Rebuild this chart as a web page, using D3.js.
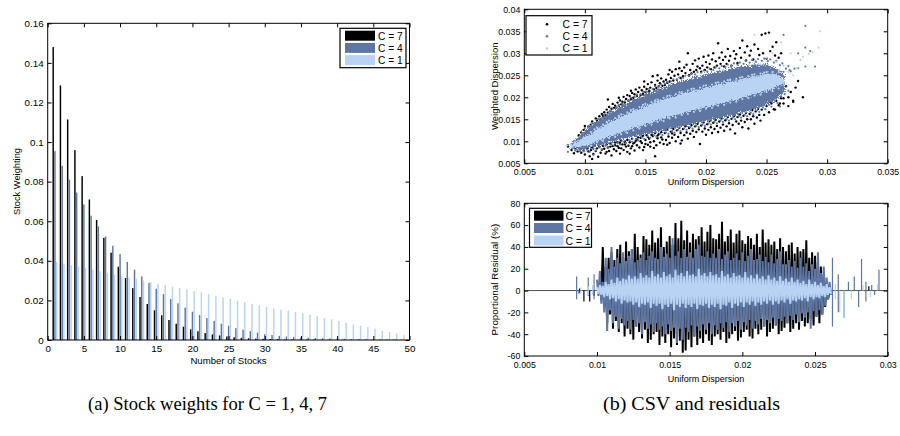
<!DOCTYPE html>
<html><head><meta charset="utf-8">
<script src="https://cdn.jsdelivr.net/npm/d3@7/dist/d3.min.js"></script>
<style>
body{margin:0;background:#fff}
svg{display:block}
text{font-family:"Liberation Sans",Arial,Helvetica,sans-serif;fill:#000}
text.cap{font-family:"Liberation Serif","Times New Roman",serif}
</style></head>
<body><svg id="c" width="900" height="436"></svg>
<script>
// ---------------- DATA ----------------
const seriesNames = ["C = 7","C = 4","C = 1"];
const seriesColors = ["#000000","#5e76a3","#b8d3f3"];

// (a) stock weights
const stockNumbers = [1,2,3,4,5,6,7,8,9,10,11,12,13,14,15,16,17,18,19,20,21,22,23,24,25,26,27,28,29,30,31,32,33,34,35,36,37,38,39,40,41,42,43,44,45,46,47,48,49,50];
const weightC7 = [0.148,0.1286,0.1114,0.0959,0.0828,0.071,0.0606,0.0516,0.0441,0.037,0.0313,0.0262,0.0217,0.0182,0.015,0.0125,0.0101,0.0082,0.0067,0.0054,0.0044,0.0035,0.0028,0.0023,0.0018,0.0014,0.0011,0.0009,0.0007,0.0006,0.0005,0.0004,0.0003,0.0003,0.0002,0.0002,0.0002,0.0001,0.0001,0.0001,0.0001,0.0001,0.0001,0.0001,0.0001,0.0001,0.0001,0.0001,0.0001,0.0001];
const weightC4 = [0.0954,0.088,0.081,0.0745,0.0685,0.0628,0.0574,0.0523,0.0476,0.0434,0.0394,0.0355,0.0321,0.0289,0.0259,0.0232,0.0207,0.0185,0.0163,0.0143,0.0126,0.0111,0.0097,0.0082,0.0072,0.006,0.0052,0.0045,0.0037,0.0029,0.0025,0.0021,0.0018,0.0016,0.0014,0.0012,0.001,0.0009,0.0008,0.0007,0.0006,0.0005,0.0005,0.0004,0.0004,0.0003,0.0003,0.0003,0.0002,0.0002];
const weightC1 = [0.0395,0.0385,0.0379,0.037,0.0363,0.0355,0.0347,0.0338,0.033,0.0321,0.0315,0.031,0.03,0.0293,0.0284,0.0278,0.0269,0.0262,0.0256,0.0247,0.0241,0.0232,0.0224,0.0215,0.0208,0.0198,0.019,0.0182,0.0175,0.0167,0.016,0.0153,0.0148,0.0141,0.0136,0.0128,0.012,0.0111,0.0104,0.0096,0.0087,0.0079,0.0072,0.0066,0.0057,0.0047,0.004,0.0032,0.0024,0.0019];
const weightTicksX = [0,5,10,15,20,25,30,35,40,45,50];
const weightTicksY = [0,0.02,0.04,0.06,0.08,0.1,0.12,0.14,0.16];

// (b, top) dispersion scatter — units of 1e-4
const bandX   = [88,92,96,100,105,110,115,120,125,130,135,140,145,150,155,160,165,170,175,180,185,190,195,200,205,210,215,220,225,230,235,240,245,250,255,260,265];
const lightLo = [86,87,87,90,93,101,104,111,114,120,123,130,133,139,142,148,150,156,158,164,166,171,173,178,180,185,187,192,194,200,202,208,210,216,218,225,232];
const lightHi = [90,98,103,112,118,128,134,144,149,158,162,170,174,182,185,192,195,201,203,209,211,217,218,224,225,231,232,237,238,243,244,249,250,254,254,251,240];
const darkLo  = [82,82,80,81,84,89,92,97,99,104,105,110,111,116,117,122,123,128,129,134,135,140,141,146,147,152,153,158,159,165,167,173,176,184,190,201,212];
const darkHi  = [94,104,114,126,135,147,155,165,171,181,187,196,200,208,212,219,222,229,232,238,240,246,248,253,255,260,261,266,267,271,271,275,274,275,269,263,248];
const blackPoints = [
[86,88],[89,80],[92,84],[94,77],[91,73],[96,82],[97,74],[99,79],[100,70],[102,84],[103,77],[104,66],[98,86],
[105,80],[106,86],[107,71],[108,90],[109,78],[110,84],[111,65],[112,88],[113,74],[114,81],[106,60],
[115,90],[116,83],[117,72],[118,93],[119,86],[120,78],[121,95],[122,68],[123,89],[124,82],[125,97],[118,76],[121,88],
[125,91],[126,78],[127,98],[128,85],[129,72],[130,101],[131,93],[132,80],[133,99],[134,88],[135,76],[127,89],[130,84],[133,93],[129,96],
[135,103],[136,90],[137,98],[138,84],[139,106],[140,95],[141,79],[142,101],[143,91],[144,109],[145,86],[137,72],[141,97],[139,89],[143,104],
[146,108],[147,96],[148,112],[149,87],[150,103],[151,114],[152,92],[153,106],[154,98],[155,115],[148,80],[150,94],[152,110],[146,100],[154,88],
[156,112],[157,100],[158,119],[159,91],[160,107],[161,116],[162,97],[163,121],[164,104],[165,94],[158,66],[160,113],[163,109],[157,85],
[166,119],[167,103],[168,126],[169,111],[170,96],[171,122],[172,108],[173,128],[174,115],[175,100],[168,92],[172,118],
[176,125],[177,110],[178,131],[179,119],[180,102],[181,128],[182,114],[183,134],[184,120],[185,106],[179,95],
[186,130],[187,117],[188,137],[189,124],[190,110],[191,134],[192,121],[193,140],[194,127],[195,94],
[196,136],[197,122],[198,143],[199,129],[200,115],[201,139],[202,126],[203,146],[204,132],[205,119],
[206,142],[207,128],[208,149],[209,135],[210,121],[211,145],[212,131],[213,152],[214,138],[215,124],
[216,148],[217,134],[218,155],[219,141],[220,127],[221,151],[222,137],[223,157],[224,118],[225,145],
[226,155],[227,140],[228,161],[229,147],[230,132],[231,158],[232,144],[233,165],[234,150],[235,129],
[236,162],[237,150],[238,171],[239,157],[240,140],[241,168],[242,154],[243,174],[244,160],[245,147],
[246,172],[248,160],[250,180],[252,166],[254,186],[256,173],[258,192],[260,182],[262,198],[264,186],[268,200],[272,190],
[95,114],[97,120],[99,126],[101,122],[103,134],[104,128],[100,135],
[105,138],[106,145],[108,140],[109,152],[110,147],[112,157],[113,150],[114,162],[107,133],
[115,158],[116,166],[117,160],[118,172],[119,165],[120,178],[121,168],[122,174],[123,185],[124,176],[125,181],[119,195],
[126,176],[127,188],[128,180],[129,193],[130,184],[131,190],[132,201],[133,188],[134,196],[135,205],[128,199],
[136,192],[137,203],[138,196],[139,210],[140,199],[141,207],[142,218],[143,203],[144,212],[145,222],[138,215],
[146,205],[147,216],[148,208],[149,224],[150,212],[151,219],[152,230],[153,214],[154,222],[155,234],[149,236],[156,248],
[157,218],[158,228],[159,221],[160,238],[161,225],[162,232],[163,243],[164,226],[165,236],[160,250],
[166,228],[167,240],[168,233],[169,252],[170,236],[171,244],[172,258],[173,238],[174,249],[175,264],[170,262],
[176,240],[177,252],[178,281],[179,244],[180,260],[181,248],[182,268],[183,255],[184,274],[185,300],[178,266],
[186,250],[187,262],[188,254],[189,276],[190,258],[191,284],[192,262],[193,270],[194,288],[195,266],
[196,258],[197,272],[198,292],[199,262],[200,280],[201,268],[202,295],[203,276],[204,264],[205,286],
[206,300],[207,268],[208,282],[209,272],[210,323],[211,290],[212,276],[213,302],[214,285],[215,270],
[216,292],[217,276],[218,310],[219,283],[220,294],[221,272],[223,305],[224,288],[225,298],
[226,278],[228,312],[229,290],[230,329],[232,302],[233,284],[234,316],[236,295],[237,306],[239,286],[240,320],
[243,310],[244,296],[246,342],[247,300],[249,345],[250,288],[252,347],[253,305],[255,315],[257,295],[258,325],[260,290],[262,300],
[236,188],[238,204],[240,230],[242,196],[244,212],[245,240],[247,186],[248,225],[250,203],[251,235],[253,190],[254,218],[256,245],[257,172],[258,206],[260,228],[261,186],[262,214],[264,198],[266,225],[268,180],[270,212],[272,192],[274,222],[276,237],[280,200],[246,190],[250,206],[255,195]];
const darkPoints = [
[100,130],[103,134],[106,142],[108,140],[111,151],[113,149],[116,160],[118,160],[121,169],[123,174],[126,177],[128,183],[131,185],[133,191],[136,193],[138,199],[141,201],[143,206],[146,207],[148,213],[151,213],[153,219],[156,219],[158,225],[161,225],[163,229],[166,231],[168,235],[171,236],[173,241],[176,240],[178,245],[181,244],[183,249],[186,248],[188,253],[191,252],[193,257],[196,256],[198,261],[201,259],[203,265],[206,262],[208,268],[211,266],[213,271],[216,269],[218,274],[221,271],[223,277],[226,274],[228,279],[231,276],[233,282],[236,279],[238,285],[241,281],[243,287],[246,283],[248,288],[251,282],[253,286],[256,279],[258,283],[261,273],[263,277],[266,265],[268,271],[270,259],[273,265],
[96,77],[99,77],[102,80],[104,76],[107,82],[109,79],[112,86],[114,82],[117,90],[119,87],[122,93],[124,90],[127,96],[129,93],[132,99],[134,96],[137,102],[139,99],[142,105],[144,102],[147,108],[149,105],[152,111],[154,108],[157,114],[159,111],[162,117],[164,114],[167,120],[169,117],[172,123],[174,120],[177,126],[179,123],[182,129],[184,126],[187,132],[189,129],[192,135],[194,132],[197,138],[199,135],[202,141],[204,138],[207,144],[209,141],[212,147],[214,144],[217,150],[219,147],[222,153],[224,150],[227,157],[229,154],[232,160],[234,157],[237,165],[239,162],[242,170],[244,167],[247,177],[249,173],[252,183],[254,179],[257,192],[259,187],[262,202],[265,207],[268,215],
[264,258],[269,262],[276,266],[282,270],[290,270],[276,300],[282,313],[282,362],[264,342],[286,305],[107,69],[86,76],[86,92],[90,90],[92,79],[256,217],[261,179]];
const lightPoints = [
[105,121],[110,131],[115,138],[120,147],[125,153],[130,161],[135,166],[140,173],[145,178],[150,185],[155,189],[160,195],[165,199],[170,204],[175,207],[180,212],[185,215],[190,220],[195,222],[200,227],[205,229],[210,234],[215,236],[220,240],[225,242],[230,246],[235,248],[240,252],[245,254],[250,257],[255,258],[260,257],[108,127],[118,144],[128,158],[138,171],[148,183],[158,193],[168,203],[178,211],[188,219],[198,226],[208,233],[218,239],[228,245],[238,251],[248,256],
[105,90],[110,98],[115,101],[120,107],[125,110],[130,116],[135,119],[140,125],[145,129],[150,135],[155,138],[160,144],[165,146],[170,152],[175,154],[180,160],[185,162],[190,167],[195,169],[200,174],[205,176],[210,181],[215,183],[220,188],[225,190],[230,196],[235,198],[240,204],[245,206],[250,212],[255,214],[260,220],
[85,90],[88,93],[90,87],[92,97],[96,100],[99,92],[240,342],[262,325],[264,272],[275,266],[285,299],[293,313],[294,350],[270,300],[250,290],[258,280],[278,285],[255,300],[245,275],[268,258],[272,250],[260,262],[280,292],[288,303]];
const scatterTicksX = [0.005,0.01,0.015,0.02,0.025,0.03,0.035];
const scatterTicksY = [0.005,0.01,0.015,0.02,0.025,0.03,0.035,0.04];

// (b, bottom) proportional residuals (%) — x in units of 1e-4
const resX = [100,102,104,106,108,110,112,114,116,118,120,122,124,126,128,130,132,134,136,138,140,142,144,146,148,150,152,154,156,158,160,162,164,166,168,170,172,174,176,178,180,182,184,186,188,190,192,194,196,198,200,202,204,206,208,210,212,214,216,218,220,222,224,226,228,230,232,234,236,238,240,242,244,246,248,250,252,254,256,258,260];
const resC7Hi = [0,5,40,22,30,35,28,38,42,30, 45,36,38,52,40,33,50,47,42,55, 44,48,58,40,45,50,42,62,48,64, 46,55,44,52,47,50,58,45,54,60, 48,47,52,63,45,50,56,44,52,55, 46,43,50,48,42,52,40,56,44,47, 42,45,38,48,40,36,42,44,34,40, 36,38,46,30,35,32,26,22,15,6, 0];
const resC7Lo = [0,-8,-15,-30,-22,-35,-28,-38,-30,-42, -35,-40,-45,-33,-38,-44,-36,-48,-45,-40, -38,-50,-42,-48,-40,-52,-44,-50,-46,-57, -55,-45,-52,-42,-50,-44,-48,-40,-46,-50, -42,-40,-45,-38,-48,-44,-40,-37,-46,-43, -38,-36,-42,-44,-35,-40,-36,-33,-42,-38, -35,-32,-40,-37,-34,-30,-38,-35,-30,-36, -28,-33,-30,-26,-32,-24,-30,-22,-15,-8, 0];
const resC4Hi = [10,18,8,30,20,40,22,30,25,35, 27,32,38,26,28,30,35,28,32,36, 30,29,40,31,34,30,48,32,36,30, 38,31,35,30,38,42,32,31,36,30, 34,30,38,29,33,36,28,30,34,28, 35,27,32,38,28,29,33,27,31,26, 33,25,29,36,24,24,28,22,27,21, 30,22,25,18,24,20,35,16,22,12, 8];
const resC4Lo = [-5,-12,-20,-37,-18,-30,-24,-35,-26,-32, -28,-36,-27,-33,-30,-40,-29,-35,-31,-38, -30,-36,-33,-40,-31,-37,-34,-48,-35,-45, -34,-38,-32,-42,-33,-37,-31,-36,-30,-40, -32,-36,-30,-34,-29,-38,-30,-33,-28,-36, -29,-32,-27,-35,-28,-31,-26,-33,-27,-30, -25,-32,-26,-28,-24,-30,-23,-27,-22,-29, -21,-25,-20,-35,-19,-24,-18,-22,-14,-8, -4];
const resC1Hi = [3,5,4,8,6,10,7,12,9,11, 10,14,11,13,11,16,12,14,12,18, 13,15,12,17,13,15,12,19,14,16, 13,18,14,15,13,20,14,16,13,17, 14,15,12,18,13,15,12,16,13,14, 12,17,12,14,11,15,11,13,10,14, 10,12,9,13,9,11,8,12,8,10, 7,9,6,10,6,8,5,7,4,6, 3];
const resC1Lo = [-3,-4,-6,-5,-8,-7,-10,-8,-12,-9, -11,-10,-13,-11,-15,-12,-13,-11,-16,-12, -14,-12,-17,-13,-15,-12,-18,-13,-15,-12, -16,-13,-15,-12,-17,-13,-14,-12,-16,-13, -15,-12,-17,-13,-14,-11,-16,-12,-14,-11, -15,-11,-13,-10,-14,-11,-13,-10,-12,-9, -13,-10,-12,-9,-11,-8,-12,-9,-10,-8, -9,-7,-10,-6,-8,-6,-7,-5,-6,-4, -3];
const spikesC7 = [[88,2],[88,-2],[91,-10],[95,-10],[98,-5],[103,-10],[287,4]];
const spikesC4 = [[86,13],[86,-8],[87.5,-3],[94,12],[94,-5],[98,15],[98,-8],[262,30],[262,-33],[266,15],[266,-20],[270,-25],[273,8],[277,13],[280,-15],[282,29],[285,8],[285,-10],[289,5],[291,-4],[294,19]];
const spikesC1 = [[89,3],[89,-3],[94,4],[94,-4],[97,5],[97,-4],[264,6],[264,-8],[267,-20],[270,-25],[275,-8],[283,5],[288,-6],[293,6]];
const resTicksX = [0.005,0.01,0.015,0.02,0.025,0.03];
const resTicksY = [-60,-40,-20,0,20,40,60,80];

// ---------------- DRAWING ----------------
const svg = d3.select("#c");
const defs = svg.append("defs");
// edge-roughening filters for the dense scatter bands
function roughFilter(id, freq, scale){
  const f = defs.append("filter").attr("id",id).attr("x","-5%").attr("y","-10%").attr("width","110%").attr("height","120%");
  f.append("feTurbulence").attr("type","fractalNoise").attr("baseFrequency",freq).attr("numOctaves",2).attr("seed",4).attr("result","n");
  f.append("feDisplacementMap").attr("in","SourceGraphic").attr("in2","n").attr("scale",scale).attr("xChannelSelector","R").attr("yChannelSelector","G");
}
roughFilter("roughDark", 0.8, 9);
roughFilter("roughLight", 0.8, 6);

function styleAxis(g, fs){
  g.select(".domain").remove();
  g.selectAll(".tick line").attr("stroke","#000").attr("stroke-width",1);
  g.selectAll(".tick text").style("font-size",fs+"px").attr("fill","#000");
  g.attr("font-family",null).attr("font-size",null);
}
function frame(xs, ys, xt, yt, fs, padB, padL){
  const [x0,x1]=xs.range(), [y0,y1]=ys.range();
  const fmt = d=>String(d);
  svg.append("g").attr("transform",`translate(0,${y0})`)
    .call(d3.axisBottom(xs).tickValues(xt).tickFormat(fmt).tickSizeInner(-4).tickSizeOuter(0).tickPadding(padB)).call(styleAxis,fs);
  svg.append("g").attr("transform",`translate(0,${y1})`)
    .call(d3.axisTop(xs).tickValues(xt).tickFormat("").tickSizeInner(-4).tickSizeOuter(0)).call(styleAxis,fs);
  svg.append("g").attr("transform",`translate(${x0},0)`)
    .call(d3.axisLeft(ys).tickValues(yt).tickFormat(fmt).tickSizeInner(-4).tickSizeOuter(0).tickPadding(padL)).call(styleAxis,fs);
  svg.append("g").attr("transform",`translate(${x1},0)`)
    .call(d3.axisRight(ys).tickValues(yt).tickFormat("").tickSizeInner(-4).tickSizeOuter(0)).call(styleAxis,fs);
  svg.append("rect").attr("x",x0).attr("y",y1).attr("width",x1-x0).attr("height",y0-y1)
    .attr("fill","none").attr("stroke","#000").attr("stroke-width",1);
}
function clip(id, xs, ys){
  const [x0,x1]=xs.range(), [y0,y1]=ys.range();
  defs.append("clipPath").attr("id",id).append("rect").attr("x",x0).attr("y",y1).attr("width",x1-x0).attr("height",y0-y1);
  return svg.append("g").attr("clip-path",`url(#${id})`);
}
function vlabel(x,y,txt,fs){
  svg.append("text").attr("transform",`translate(${x},${y}) rotate(-90)`).attr("text-anchor","middle").style("font-size",fs+"px").text(txt);
}
function hlabel(x,y,txt,fs){
  svg.append("text").attr("x",x).attr("y",y).attr("text-anchor","middle").style("font-size",fs+"px").text(txt);
}

// ===== (a) bar chart =====
const xA = d3.scaleLinear().domain([0,50]).range([47.7,409.5]);
const yA = d3.scaleLinear().domain([0,0.16]).range([340,23.3]);
const gA = clip("clipA", xA, yA);
const barSeries = [weightC7, weightC4, weightC1];
const barOffsets = [-0.24, 0, 0.24];
const barW = xA(0.2)-xA(0);
barSeries.forEach((vals,i)=>{
  gA.selectAll(null).data(stockNumbers).enter().append("rect")
    .attr("x",(d,j)=>xA(d+barOffsets[i])-barW/2)
    .attr("width",barW)
    .attr("y",(d,j)=>yA(vals[j]))
    .attr("height",(d,j)=>yA(0)-yA(vals[j]))
    .attr("fill",seriesColors[i]);
});
frame(xA, yA, weightTicksX, weightTicksY, 9.8, 5, 4);
vlabel(20, 181.5, "Stock Weighting", 9.3);
hlabel(228.5, 364, "Number of Stocks", 9.6);
svg.append("rect").attr("x",340).attr("y",28.3).attr("width",66).attr("height",39.4).attr("fill","#fff").attr("stroke","#000").attr("stroke-width",1.2);
seriesNames.forEach((n,i)=>{
  const yy = 30.7 + i*12.2;
  svg.append("rect").attr("x",345).attr("y",yy).attr("width",30).attr("height",10).attr("fill",seriesColors[i]);
  svg.append("text").attr("x",378).attr("y",yy+8.8).style("font-size","10.2px").text(n);
});

// ===== (b) top scatter =====
const xS = d3.scaleLinear().domain([0.005,0.035]).range([524.3,887.7]);
const yS = d3.scaleLinear().domain([0.005,0.04]).range([163.3,9.3]);
const gS = clip("clipS", xS, yS);
const u = v=>v*1e-4;
const bandRows = bandX.map((x,i)=>({x, ll:lightLo[i], lh:lightHi[i], dl:darkLo[i], dh:darkHi[i]}));
function dots(pts, color, r){
  gS.selectAll(null).data(pts).enter().append("circle")
    .attr("cx",d=>xS(u(d[0]))).attr("cy",d=>yS(u(d[1]))).attr("r",r).attr("fill",color);
}
dots(blackPoints, seriesColors[0], 1.2);
gS.append("g").attr("filter","url(#roughDark)").append("path").datum(bandRows)
  .attr("d", d3.area().x(d=>xS(u(d.x))).y0(d=>yS(u(d.dl))).y1(d=>yS(u(d.dh))))
  .attr("fill",seriesColors[1]);
dots(darkPoints, seriesColors[1], 1.1);
gS.append("g").attr("filter","url(#roughLight)").append("path").datum(bandRows)
  .attr("d", d3.area().x(d=>xS(u(d.x))).y0(d=>yS(u(d.ll))).y1(d=>yS(u(d.lh))))
  .attr("fill",seriesColors[2]);
dots(lightPoints, seriesColors[2], 1.1);
frame(xS, yS, scatterTicksX, scatterTicksY, 8.8, 5, 4);
vlabel(498, 86.3, "Weighted Dispersion", 9.5);
hlabel(706, 184.5, "Uniform Dispersion", 9);
svg.append("rect").attr("x",526).attr("y",15.7).attr("width",66).attr("height",39.3).attr("fill","#fff").attr("stroke","#000").attr("stroke-width",1.2);
[24.3,36.2,48.6].forEach((yy,i)=>{
  svg.append("circle").attr("cx",547).attr("cy",yy).attr("r",1.3).attr("fill",seriesColors[i]);
  svg.append("text").attr("x",562.5).attr("y",yy+3.7).style("font-size","10.4px").text(seriesNames[i]);
});

// ===== (b) bottom residuals =====
const xR = d3.scaleLinear().domain([0.005,0.03]).range([524.3,887.7]);
const yR = d3.scaleLinear().domain([-60,80]).range([356,203.3]);
const gR = clip("clipR", xR, yR);
gR.append("line").attr("x1",xR(0.005)).attr("x2",xR(0.03)).attr("y1",yR(0)).attr("y2",yR(0)).attr("stroke","#505050").attr("stroke-width",1);
const resSeries = [[resC7Lo,resC7Hi,spikesC7],[resC4Lo,resC4Hi,spikesC4],[resC1Lo,resC1Hi,spikesC1]];
const zig = d3.line().x(d=>xR(u(d[0]))).y(d=>yR(d[1]));
resSeries.forEach(([lo,hi,sp],i)=>{
  const pts = [];
  resX.forEach((x,j)=>{ pts.push([x,hi[j]]); pts.push([x+1,lo[j]]); });
  gR.append("path").datum(pts).attr("d",zig)
    .attr("fill","none").attr("stroke",seriesColors[i]).attr("stroke-width",2).attr("stroke-linejoin","miter").attr("stroke-miterlimit",2);
  gR.selectAll(null).data(sp).enter().append("line")
    .attr("x1",d=>xR(u(d[0]))).attr("x2",d=>xR(u(d[0])))
    .attr("y1",yR(0)).attr("y2",d=>yR(d[1]))
    .attr("stroke",seriesColors[i]).attr("stroke-width",1.2);
});
frame(xR, yR, resTicksX, resTicksY, 8.8, 5.5, 4);
vlabel(498, 279.6, "Proportional Residual (%)", 9.8);
hlabel(706, 381.5, "Uniform Dispersion", 9);
svg.append("rect").attr("x",529.5).attr("y",208.3).attr("width",62).attr("height",39).attr("fill","#fff").attr("stroke","#000").attr("stroke-width",1.2);
[210.7,223,235.5].forEach((yy,i)=>{
  svg.append("rect").attr("x",534).attr("y",yy).attr("width",29.5).attr("height",10).attr("fill",seriesColors[i]);
  svg.append("text").attr("x",565.5).attr("y",yy+9).style("font-size","10.4px").text(seriesNames[i]);
});

// captions
svg.append("text").attr("class","cap").attr("x",207.5).attr("y",410).attr("text-anchor","middle")
  .style("font-size","18px").attr("textLength",239).attr("lengthAdjust","spacingAndGlyphs").text("(a) Stock weights for C = 1, 4, 7");
svg.append("text").attr("class","cap").attr("x",691.5).attr("y",410).attr("text-anchor","middle")
  .style("font-size","18px").attr("textLength",177).attr("lengthAdjust","spacingAndGlyphs").text("(b) CSV and residuals");
</script></body></html>
